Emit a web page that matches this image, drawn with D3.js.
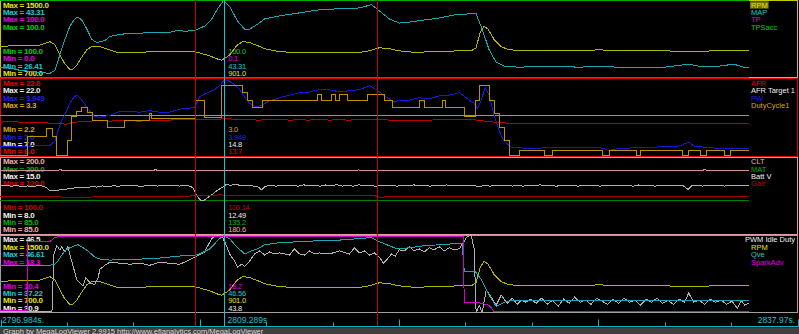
<!DOCTYPE html>
<html>
<head>
<meta charset="UTF-8">
<title>MegaLogViewer</title>
<style>
body{margin:0;background:#000;}
svg{display:block;}
text{font-family:'Liberation Sans',Arial,sans-serif;}
</style>
</head>
<body>
<script src="https://d3js.org/d3.v7.min.js"></script>
<script>
// log time, seconds
var logStart = 2796.984, logEnd = 2837.97, cursorTime = 2809.289;
var markerTimes = [10.66, 20.6];   // seconds after logStart
var timeLabels = ["2796.984s.", "2809.289s", "2837.97s."];

// series: [seconds after logStart, value]
var rpm = [[0,1025],[1.0,1030],[2.07,1031],[2.73,1073],[3.0,1041],[3.27,935],[3.55,839],[3.82,785],[3.98,785],[4.2,828],[4.47,913],[4.75,988],[5.02,1025],[5.46,1020],[6.0,988],[6.27,967],[6.55,956],[7.09,956],[8.18,967],[9.27,967],[10.09,967],[10.64,967],[10.91,956],[11.46,924],[11.89,892],[12.1,880],[12.3,901],[12.55,934],[12.93,1031],[13.26,1073],[13.64,1063],[14.08,1031],[14.46,999],[15.0,977],[15.82,961],[16.91,956],[18.55,956],[19.64,961],[20.19,977],[20.73,1009],[21.28,999],[21.82,977],[22.64,961],[23.46,967],[24.28,972],[25.1,977],[25.75,977],[26.02,1009],[26.24,1169],[26.46,1233],[26.68,1201],[27.0,1095],[27.39,1020],[27.82,988],[28.91,977],[30.0,983],[31.64,977],[32.73,988],[33.82,977],[35.46,983],[37.1,972],[38.19,967],[39.28,983],[40.37,983],[40.92,983]];
var map = [[0,28.66],[0.55,28.44],[1.09,27.99],[1.64,27.76],[2.18,27.54],[2.73,27.31],[3.0,27.99],[3.27,31.37],[3.55,34.75],[3.82,37.68],[4.09,39.25],[4.26,39.7],[4.47,39.03],[4.75,37.0],[5.02,34.75],[5.29,34.07],[5.73,34.52],[6.0,35.42],[6.55,35.87],[7.09,36.1],[7.64,36.1],[8.18,36.32],[8.73,36.32],[9.27,36.32],[9.71,36.77],[10.09,36.55],[10.64,36.77],[11.18,37.68],[11.57,39.25],[11.89,41.51],[12.22,43.31],[12.55,41.96],[12.98,38.8],[13.37,37.0],[13.64,37.0],[14.08,38.13],[14.46,39.25],[15.28,39.93],[16.37,40.6],[17.46,41.28],[18.55,41.51],[19.37,41.51],[19.91,41.96],[20.29,42.41],[20.73,41.05],[21.28,39.25],[21.82,38.35],[22.37,38.58],[23.19,39.03],[24.0,39.48],[24.82,40.15],[25.64,40.38],[26.02,40.38],[26.35,37.0],[26.73,32.49],[27.11,29.79],[27.55,28.89],[28.37,28.66],[29.46,28.89],[30.55,28.89],[31.64,28.66],[32.73,28.89],[33.82,28.66],[35.19,28.66],[36.28,28.66],[37.64,29.34],[38.19,28.89],[39.28,28.89],[40.1,29.34],[40.64,28.66],[40.92,28.66]];
var tp = [[0,0.1],[40.92,0.1]];
var tpsAcc = [[0,100],[40.92,100]];

var afr = [[0,13.03],[0.55,13.13],[1.09,13.03],[1.64,12.92],[2.18,12.97],[2.73,12.81],[3.27,12.7],[3.6,12.59],[3.93,12.92],[4.36,13.13],[4.91,13.24],[5.46,13.35],[6.0,13.24],[6.55,13.35],[7.09,13.3],[7.64,13.24],[8.18,13.35],[8.73,13.35],[9.27,13.46],[9.82,13.57],[10.37,13.5],[10.91,13.68],[11.46,13.6],[12.0,13.68],[12.55,13.7],[13.09,13.57],[13.64,13.5],[14.18,13.46],[14.73,13.55],[15.28,13.57],[15.82,13.46],[16.37,13.5],[16.91,13.46],[17.46,13.6],[18.0,13.46],[18.55,13.5],[19.09,13.46],[19.64,13.55],[20.19,13.5],[20.57,13.57],[21.28,13.46],[21.82,13.35],[22.37,13.4],[22.91,13.46],[23.46,13.46],[24.0,13.5],[24.55,13.57],[25.1,13.55],[25.64,13.57],[26.08,13.46],[26.73,13.13],[27.28,12.92],[27.82,12.81],[28.37,12.75],[28.91,12.7],[29.46,12.75],[30.0,12.81],[30.55,12.7],[31.09,12.75],[31.64,12.81],[32.19,12.7],[32.73,12.75],[33.27,12.7],[33.82,12.7],[34.37,12.75],[34.91,12.81],[35.46,12.7],[36.0,12.75],[36.55,12.81],[37.1,12.7],[37.64,12.75],[38.19,12.7],[38.73,12.75],[39.28,12.7],[39.82,12.75],[40.37,12.7],[40.92,12.7]];
var afrTarget = [[0,14.8],[40.92,14.8]];
var pw = [[0,2.24],[1.5,2.24],[2.73,2.26],[3.0,2.37],[3.16,2.63],[3.38,2.9],[3.6,3.11],[3.82,3.34],[4.04,3.5],[4.2,3.55],[4.36,3.48],[4.64,3.32],[4.91,3.13],[5.18,3.0],[5.46,2.98],[6.0,3.03],[6.55,3.13],[7.09,3.13],[7.64,3.11],[8.18,3.15],[8.73,3.11],[9.27,3.11],[9.82,3.19],[10.37,3.21],[10.64,3.24],[10.91,3.5],[11.18,3.58],[11.73,3.69],[12.0,3.79],[12.27,3.949],[12.55,3.9],[12.82,3.82],[13.09,3.69],[13.37,3.5],[13.64,3.34],[13.97,3.24],[14.29,3.29],[14.73,3.4],[15.28,3.48],[15.82,3.55],[16.37,3.61],[16.91,3.63],[17.46,3.69],[18.0,3.69],[18.55,3.63],[19.09,3.66],[19.64,3.69],[19.91,3.74],[20.19,3.79],[20.57,3.69],[21.0,3.53],[21.55,3.37],[21.82,3.42],[22.37,3.42],[22.91,3.48],[23.46,3.45],[24.0,3.53],[24.55,3.55],[25.1,3.61],[25.64,3.42],[25.91,3.34],[26.08,3.21],[26.3,3.42],[26.51,3.74],[26.73,3.55],[27.0,3.03],[27.28,2.63],[27.55,2.37],[27.93,2.21],[28.91,2.18],[30.55,2.21],[32.73,2.21],[33.3,2.13],[33.82,2.18],[35.46,2.21],[37.1,2.24],[37.64,2.34],[37.92,2.24],[39.28,2.18],[40.92,2.18]];
var duty = [[0,2.2],[1.53,2.48],[2.56,2.59],[2.89,2.48],[3.11,2.2],[3.71,2.41],[3.93,2.76],[4.2,2.84],[4.47,2.9],[4.8,2.82],[5.07,2.7],[5.89,2.6],[6.82,2.7],[8.18,2.81],[8.29,2.74],[10.69,3.0],[11.18,2.75],[12.11,3.21],[13.26,3.11],[13.53,3.0],[13.8,2.9],[14.35,3.0],[17.35,3.09],[17.57,3.0],[18.11,3.09],[18.33,3.0],[18.55,3.09],[18.99,3.0],[20.08,3.09],[21.0,3.0],[21.44,2.9],[22.91,3.0],[23.19,2.9],[24.17,3.0],[24.33,2.9],[25.37,2.76],[25.97,3.0],[26.19,3.21],[26.73,3.0],[27.0,2.81],[27.28,2.6],[27.55,2.41],[27.82,2.2],[28.37,2.27],[29.73,2.2],[30.17,2.27],[32.9,2.2],[33.3,2.27],[34.8,2.2],[35.0,2.27],[37.3,2.2],[37.6,2.27],[38.3,2.2],[38.6,2.27],[39.6,2.2],[39.9,2.27],[40.92,2.27]];

var clt = [[0,180.6],[3.2,180.6],[3.3,182.0],[3.4,180.6],[8.4,180.6],[8.5,181.6],[8.6,180.6],[19.5,180.6],[19.6,181.4],[19.7,180.6],[38.4,180.6],[38.5,181.8],[38.6,180.6],[40.92,180.6]];
var mat = [[0,134.5],[3.3,134.5],[3.4,135.2],[35.4,135.2],[35.5,134.5],[36.3,134.5],[36.4,135.2],[40.92,135.2]];
var battV = [[0,12.4],[0.3,12.45],[0.6,12.35],[0.9,12.42],[1.2,12.3],[1.5,12.38],[1.8,12.33],[2.1,12.42],[2.4,12.35],[2.56,12.2],[2.7,12.0],[2.9,11.95],[3.2,12.0],[3.5,12.05],[3.8,12.15],[4.1,12.2],[4.4,12.28],[4.7,12.22],[5.0,12.3],[5.3,12.28],[5.6,12.38],[5.9,12.32],[6.2,12.4],[6.5,12.35],[6.8,12.45],[7.1,12.37],[7.4,12.42],[7.7,12.33],[8.0,12.4],[8.3,12.46],[8.6,12.36],[8.9,12.43],[9.2,12.38],[9.5,12.47],[9.8,12.37],[10.1,12.42],[10.4,12.36],[10.55,12.2],[10.7,11.7],[10.85,11.25],[11.0,11.0],[11.15,11.05],[11.35,11.3],[11.6,11.6],[11.85,11.95],[12.1,12.2],[12.35,12.49],[12.6,12.45],[12.9,12.52],[13.2,12.4],[13.5,12.46],[13.8,12.38],[14.1,12.3],[14.3,12.02],[14.5,12.35],[14.8,12.42],[15.1,12.36],[15.4,12.47],[15.7,12.4],[16.0,12.45],[16.3,12.35],[16.6,12.48],[16.9,12.38],[17.2,12.44],[17.5,12.36],[17.8,12.47],[18.1,12.4],[18.4,12.5],[18.7,12.37],[19.0,12.43],[19.3,12.36],[19.6,12.48],[19.9,12.4],[20.2,12.45],[20.5,12.35],[20.8,12.42],[21.1,12.38],[21.4,12.46],[21.7,12.36],[22.0,12.44],[22.3,12.38],[22.6,12.48],[22.9,12.4],[23.2,12.45],[23.5,12.36],[23.8,12.44],[24.1,12.39],[24.4,12.47],[24.7,12.38],[25.0,12.43],[25.3,12.37],[25.6,12.46],[25.9,12.4],[26.2,12.32],[26.5,12.42],[26.8,12.36],[27.1,12.45],[27.4,12.39],[27.7,12.47],[28.0,12.37],[28.3,12.44],[28.6,12.36],[28.9,12.45],[29.2,12.39],[29.5,12.48],[29.8,12.4],[30.1,12.44],[30.4,12.35],[30.7,12.46],[31.0,12.39],[31.3,12.43],[31.6,12.35],[31.9,12.47],[32.2,12.4],[32.5,12.44],[32.8,12.36],[33.1,12.45],[33.4,12.38],[33.7,12.46],[34.0,12.4],[34.3,12.44],[34.6,12.35],[34.9,12.47],[35.2,12.39],[35.5,12.43],[35.8,12.36],[36.1,12.46],[36.4,12.4],[36.7,12.44],[37.0,12.37],[37.3,12.45],[37.6,12.05],[37.8,12.4],[38.1,12.44],[38.4,12.36],[38.7,12.46],[39.0,12.4],[39.3,12.44],[39.6,12.37],[39.9,12.45],[40.2,12.39],[40.5,12.44],[40.92,12.4]];
var gair = [[0,109.7],[2.0,109.8],[4.0,109.5],[6.0,109.7],[10.0,109.8],[12.0,110.14],[15.0,109.9],[20.5,109.9],[20.7,109.6],[28.0,109.7],[35.0,109.8],[40.92,109.7]];

var pwmIdle = [[0,31.1],[2.84,31.1],[2.95,42.76],[3.11,44.42],[3.27,43.59],[3.38,44.21],[3.55,43.17],[3.71,44.21],[3.82,42.55],[3.98,40.47],[4.2,37.56],[4.36,36.93],[4.53,36.31],[4.69,37.97],[4.91,36.93],[5.18,36.52],[5.35,37.76],[5.46,39.64],[5.73,40.47],[6.0,41.09],[6.55,40.88],[7.09,40.68],[7.64,40.88],[8.18,40.47],[8.73,41.09],[9.27,40.88],[9.82,40.68],[10.2,41.3],[10.64,42.13],[11.18,43.17],[11.57,45.88],[11.78,46.5],[12.11,46.5],[12.33,44.84],[12.55,42.76],[12.82,41.3],[12.98,40.05],[13.2,40.68],[13.37,40.26],[13.64,41.3],[13.91,42.76],[14.18,43.38],[14.46,42.55],[14.73,43.17],[15.0,42.76],[15.28,42.96],[15.82,42.55],[16.09,43.8],[16.37,42.76],[16.64,42.55],[16.91,43.38],[17.18,42.76],[17.46,42.96],[18.0,42.76],[18.55,43.38],[19.09,42.76],[19.37,44.0],[19.64,42.96],[19.91,43.38],[20.19,42.55],[20.46,42.96],[20.73,42.13],[20.95,40.88],[21.17,41.72],[21.39,42.76],[21.6,42.34],[21.82,43.59],[22.09,43.38],[22.37,44.21],[22.64,43.38],[22.91,43.8],[23.19,43.17],[23.46,44.0],[23.73,43.59],[24.0,44.21],[24.28,43.38],[24.55,44.0],[24.82,43.59],[25.1,43.8],[25.31,45.04],[25.53,46.29],[25.75,46.5],[25.91,43.8],[26.02,30.9],[26.19,32.36],[26.35,30.9],[26.57,35.48],[26.84,34.02],[27.11,32.36],[27.39,34.44],[27.71,32.77],[27.99,33.81],[28.26,32.56],[28.48,33.4],[28.7,32.98],[29.0,33.6],[29.3,32.77],[29.6,33.81],[29.9,32.56],[30.2,33.4],[30.5,32.15],[30.8,33.6],[31.1,32.77],[31.4,34.02],[31.7,32.98],[32.0,33.4],[32.3,32.56],[32.6,33.81],[32.9,33.19],[33.2,32.56],[33.5,33.6],[33.8,32.77],[34.1,33.81],[34.4,32.98],[34.7,33.4],[35.0,32.36],[35.3,33.6],[35.6,32.98],[35.9,33.81],[36.2,32.77],[36.5,33.4],[36.8,32.56],[37.1,33.6],[37.4,32.98],[37.64,34.85],[37.9,32.98],[38.2,33.4],[38.5,32.56],[38.8,33.6],[39.1,32.98],[39.4,33.4],[39.7,32.56],[40.0,33.19],[40.3,31.73],[40.5,33.4],[40.7,32.36],[40.92,32.77]];
var qve = [[0,42.98],[1.53,42.98],[2.73,42.98],[3.0,43.1],[3.16,43.48],[3.38,44.23],[3.6,44.86],[3.82,45.11],[4.09,45.36],[4.26,45.48],[4.47,45.23],[4.8,44.73],[5.18,43.98],[5.46,43.73],[6.0,43.61],[6.55,43.67],[7.64,43.73],[8.73,43.86],[9.82,44.11],[10.64,44.23],[10.91,44.36],[11.46,44.98],[11.73,45.61],[12.0,46.23],[12.22,46.56],[12.55,46.23],[12.93,45.23],[13.37,44.36],[13.75,44.73],[14.08,44.98],[14.46,45.48],[15.28,45.73],[16.37,45.86],[17.46,45.98],[18.55,46.05],[19.64,46.23],[20.29,46.36],[20.73,45.86],[21.28,45.36],[21.71,44.98],[22.37,45.11],[23.19,45.36],[24.0,45.48],[24.82,45.61],[25.26,45.61],[25.37,42.23],[25.97,42.23],[26.3,41.23],[26.73,39.35],[27.11,37.97],[27.55,38.47],[28.1,38.72],[28.91,38.72],[40.92,38.72]];
var sparkAdv = [[0,10.6],[1.5,10.6],[1.53,17.67],[2.73,17.67],[3.0,18.1],[3.27,18.2],[10.0,18.2],[14.0,18.2],[18.5,18.2],[20.5,18.2],[25.31,18.2],[25.37,11.45],[26.08,11.45],[26.73,11.14],[27.0,10.51],[40.92,10.51]];

// panels
var panelNames = [["RPM","MAP","TP","TPSacc"],["AFR","AFR Target 1","PW","DutyCycle1"],["CLT","MAT","Batt V","Gair"],["PWM Idle Duty","RPM","Qve","SparkAdv"]];
var panelMax = [["1500.0","43.31","100.0","100.0"],["22.0","22.0","3.949","3.3"],["200.0","200.0","15.0","120.0"],["46.5","1500.0","46.61","18.3"]];
var panelMin = [["700.0","26.41","0.0","100.0"],["6.0","7.0","2.0","2.2"],["85.0","85.0","8.0","100.0"],["30.9","700.0","37.22","10.4"]];
var cursorValues = [["901.0","43.31","0.1","100.0"],["13.7","14.8","3.949","3.0"],["180.6","135.2","12.49","110.14"],["43.8","901.0","46.56","18.2"]];
var panelData = [[rpm,map,tp,tpsAcc],[afr,afrTarget,pw,duty],[clt,mat,battV,gair],[pwmIdle,rpm,qve,sparkAdv]];

// styles
var lineColors = [["#b4b400","#1aa8b0","#e000e0","#00b400"],["#b80000","#949494","#1818d8","#bc9000"],["#c89898","#008000","#b0b0b0","#a00000"],["#b0b0b0","#b4b400","#1aa8b0","#d000d0"]];
var textColors = [["#e6e600","#20c8d0","#e000e0","#00d000"],["#e00000","#eeeeee","#2020e0","#d8a800"],["#e8b0b0","#00b400","#f0f0f0","#d00000"],["#f0f0f0","#e6e600","#20c8d0","#e000e0"]];
var borderColors = ["#c8c800","#e00000","#e0a0a0","#a0a0a0"];
var stepped = [[false,false,false,false],[false,false,false,true],[false,false,false,false],[false,false,false,false]];

var width = 799, height = 334;
var plotW = 750, fullW = 798, panelH = 78.25;
var axisY = 326.5;

var svg = d3.select("body").append("svg")
    .attr("width", width)
    .attr("height", height);
svg.append("rect").attr("width", width).attr("height", height).attr("fill", "#000");
var defs = svg.append("defs");

var x = d3.scaleLinear().domain([0, logEnd - logStart]).range([0, plotW]);

panelNames.forEach(function(names, p){
    var top = p * panelH, bottom = top + panelH;
    var g = svg.append("g");

    defs.append("clipPath").attr("id", "clip" + p)
        .append("rect").attr("x", 0).attr("y", Math.floor(top))
        .attr("width", plotW + 1).attr("height", Math.ceil(bottom) - Math.floor(top));

    // panel frame
    g.append("rect")
        .attr("x", 0.5).attr("y", top + 0.5)
        .attr("width", fullW - 1).attr("height", panelH - 1)
        .attr("fill", "none").attr("stroke", borderColors[p])
        .attr("shape-rendering", "crispEdges");

    // min / max labels, cursor values, legend
    names.forEach(function(name, i){
        var yMax = top + 4.7 + 7.35 * i + 3;
        var yMin = bottom - 5.3 - 7.35 * i + 3;
        g.append("text").attr("x", 3).attr("y", yMax)
            .attr("font-size", 8).attr("font-weight", "bold").attr("letter-spacing", -0.3)
            .attr("fill", textColors[p][i]).text("Max = " + panelMax[p][i]);
        g.append("text").attr("x", 3).attr("y", yMin)
            .attr("font-size", 8).attr("font-weight", "bold").attr("letter-spacing", -0.3)
            .attr("fill", textColors[p][i]).text("Min = " + panelMin[p][i]);
        g.append("text").attr("x", x(cursorTime - logStart) + 3).attr("y", yMin)
            .attr("font-size", 7.5).attr("letter-spacing", -0.2)
            .attr("fill", textColors[p][i]).text(cursorValues[p][i]);
        var leg = g.append("text").attr("x", 751).attr("y", yMax)
            .attr("font-size", 7.5)
            .attr("fill", textColors[p][i]).text(name);
        var w = leg.node().getComputedTextLength();
        if (751 + w > 795) leg.attr("x", 795 - w);
        if (p === 0 && i === 0) {
            g.insert("rect", "text:last-child")
                .attr("x", 750).attr("y", yMax - 6.5).attr("width", w + 2).attr("height", 7.5)
                .attr("fill", "#6e6e00");
        }
    });

    // series lines (min / max sit on the frame rows)
    names.forEach(function(name, i){
        var lo = +panelMin[p][i], hi = +panelMax[p][i];
        var y = d3.scaleLinear()
            .domain(lo === hi ? [lo - 1, hi] : [lo, hi])
            .range([Math.floor(bottom) - 0.5, Math.ceil(top) + 0.5])
            .clamp(true);
        var line = d3.line()
            .x(function(d){ return x(d[0]); })
            .y(function(d){ return y(d[1]); })
            .curve(stepped[p][i] ? d3.curveStepAfter : d3.curveLinear);
        g.append("path")
            .datum(panelData[p][i])
            .attr("d", line)
            .attr("fill", "none")
            .attr("stroke", lineColors[p][i])
            .attr("stroke-width", 1)
            .attr("shape-rendering", "crispEdges")
            .attr("clip-path", "url(#clip" + p + ")");
    });
});

// marker lines and cursor
markerTimes.forEach(function(t){
    svg.append("line")
        .attr("x1", Math.round(x(t)) + 0.5).attr("x2", Math.round(x(t)) + 0.5)
        .attr("y1", 0).attr("y2", axisY)
        .attr("stroke", "#c80000");
});
var cx = Math.round(x(cursorTime - logStart)) - 0.5;
svg.append("line")
    .attr("x1", cx).attr("x2", cx)
    .attr("y1", 0).attr("y2", axisY)
    .attr("stroke", "#20c0c8");

// time axis strip
var tickPos = d3.scaleLinear().domain([0, 12]).range([0.5, fullW - 0.5]);
svg.append("line")
    .attr("x1", 0).attr("x2", width)
    .attr("y1", axisY).attr("y2", axisY)
    .attr("stroke", "#10b4b8");
svg.selectAll(".tick").data(d3.range(0, 13)).enter().append("line")
    .attr("x1", function(d){ return Math.round(tickPos(d)) + 0.5; })
    .attr("x2", function(d){ return Math.round(tickPos(d)) + 0.5; })
    .attr("y1", function(d){ return d % 3 === 0 ? 319.5 : 322.5; })
    .attr("y2", axisY)
    .attr("stroke", "#10b4b8");

svg.append("text").attr("x", 2).attr("y", 323)
    .attr("font-size", 8.5).attr("fill", "#20c0c8").text(timeLabels[0]);
svg.append("text").attr("x", cx + 3).attr("y", 323)
    .attr("font-size", 8.5).attr("fill", "#20c0c8").text(timeLabels[1]);
svg.append("text").attr("x", 795).attr("y", 323).attr("text-anchor", "end")
    .attr("font-size", 8.5).attr("fill", "#20c0c8").text(timeLabels[2]);

// footer
svg.append("rect").attr("x", 0).attr("y", 327.5).attr("width", width).attr("height", 7).attr("fill", "#404040");
svg.append("text").attr("x", 3).attr("y", 333.5)
    .attr("font-size", 7.5).attr("fill", "#d8d8d8")
    .text("Graph by MegaLogViewer 2.9915 http://www.efianalytics.com/MegaLogViewer");
</script>
</body>
</html>
